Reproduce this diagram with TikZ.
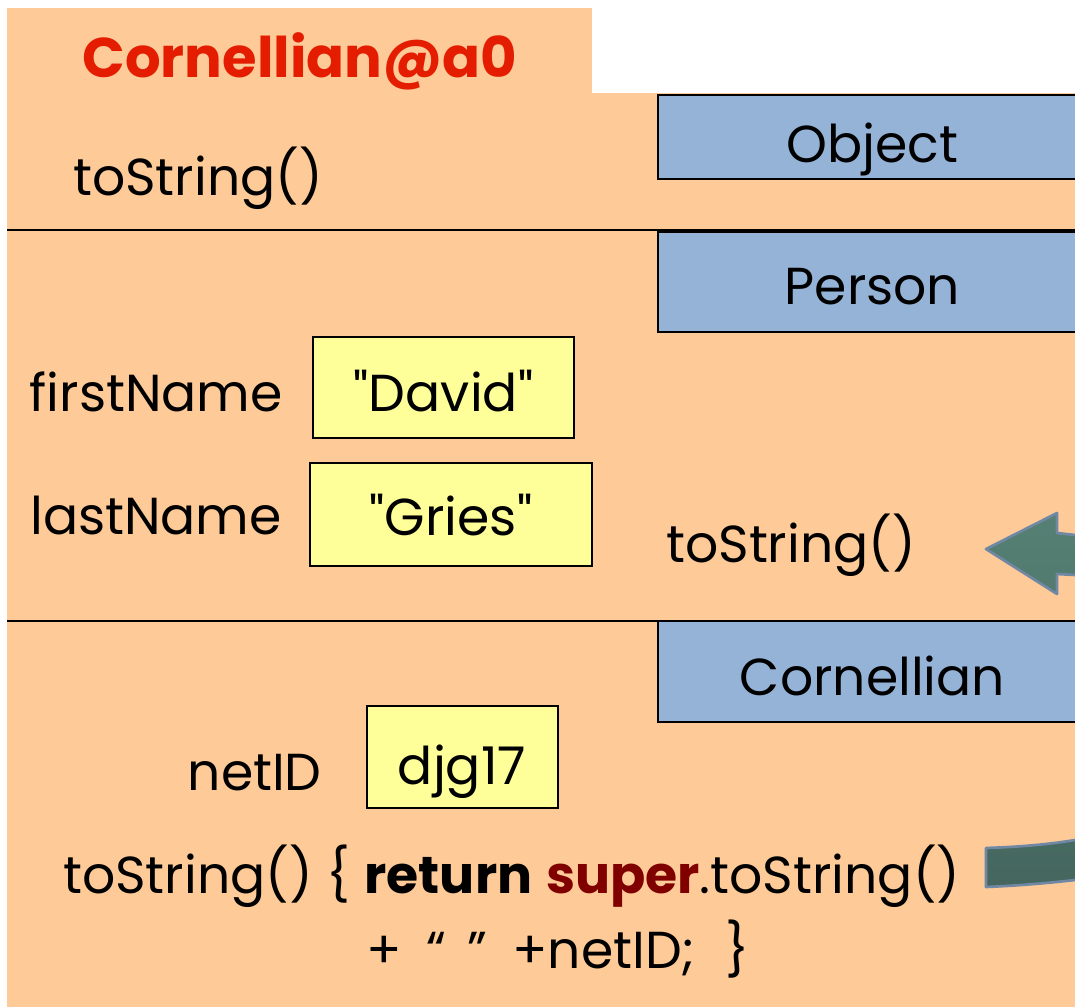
\documentclass[tikz,border=0pt]{standalone}
\usepackage{fontspec}
\setmainfont{Poppins}
\definecolor{peach}{RGB}{253,202,152}
\definecolor{clsblue}{RGB}{149,179,215}
\definecolor{fieldyel}{RGB}{255,255,153}
\definecolor{titlered}{RGB}{228,28,0}
\definecolor{superred}{RGB}{128,0,0}
\definecolor{arrtop}{RGB}{86,128,116}
\definecolor{arrbot}{RGB}{68,102,94}
\definecolor{arredge}{RGB}{112,136,164}
\begin{document}
\begin{tikzpicture}[x=0.75pt,y=-0.75pt,
  txt/.style={inner sep=0pt,font=\fontsize{39}{47}\selectfont},
  clsbox/.style={draw=black,line width=1.5pt,fill=clsblue,inner sep=0pt,minimum height=63.75pt},
  valbox/.style={draw=black,line width=1.5pt,fill=fieldyel,inner sep=0pt},
  sepline/.style={line width=1.6pt,black}]
\useasboundingbox (0,0) rectangle (1075,1007);
\begin{scope}
\clip (0,0) rectangle (1075,1007);
% object background
\fill[peach] (7,8) rectangle (592,94);
\fill[peach] (7,93) rectangle (1075,1007);
\draw[sepline] (7,230) -- (1075,230);
\draw[sepline] (7,621) -- (1075,621);
% class tags
\node[clsbox,minimum width=322.5pt,minimum height=63pt] (obj) at (872.5,137) {};
\node[clsbox,minimum width=322.5pt,minimum height=75pt] (per) at (872.5,282) {};
\node[clsbox,minimum width=322.5pt,minimum height=75.75pt] (cor) at (872.5,671.5) {};
% curved arrow (continues beyond the right edge)
\shade[top color=arrtop,bottom color=arrbot,draw=arredge,line width=2pt,line join=round]
  (986,549) -- (1057,513) -- (1057,533) -- (1075,535)
  .. controls (1200,548) and (1200,870) .. (1075,880)
  .. controls (1040,884) and (1010,886) .. (986,887) -- (986,848)
  .. controls (1015,847) and (1045,845) .. (1075,840)
  .. controls (1160,833) and (1160,583) .. (1075,575)
  -- (1057,574) -- (1057,594) -- cycle;
\end{scope}
\node[txt,anchor=base] (objt) at (872.5,162) {Object};
\node[txt,anchor=base] (pert) at (872.5,304) {Person};
\node[txt,anchor=base] (cort) at (872.5,695) {Cornellian};
% title
\node[inner sep=0pt,anchor=base,text=titlered,font=\fontsize{42}{50}\selectfont\bfseries] (title) at (300,77) {Cornellian@a0};
% Object part
\node[txt,anchor=base west] (ts1) at (73,195) {toString()};
% Person part
\node[valbox,minimum width=195.75pt,minimum height=75.75pt] (david) at (443.5,387.5) {};
\node[txt,anchor=base] (davidt) at (443.5,411) {\textquotedbl David\textquotedbl};
\node[valbox,minimum width=211.5pt,minimum height=77.25pt] (gries) at (451,514.5) {};
\node[txt,anchor=base] (griest) at (451,535) {\textquotedbl Gries\textquotedbl};
\node[txt,anchor=base east] (fn) at (283,411) {firstName};
\node[txt,anchor=base east] (ln) at (282,534) {lastName};
\node[txt,anchor=base west] (ts2) at (666,562) {toString()};
% Cornellian part
\node[valbox,minimum width=143.25pt,minimum height=76.5pt] (net) at (462,757) {};
\node[txt,anchor=base] (nett) at (462,784) {djg17};
\node[txt,anchor=base east] (netl) at (322,790) {netID};
\node[txt,anchor=base west] (ts3) at (63,893) {toString() \{ \textbf{return} \textbf{\color{superred}super}.toString()};
\node[txt,anchor=base west] (ts4) at (366,968) {+\hspace{8pt} “\hspace{6pt} ”\hspace{8pt} +netID;\hspace{12pt} \}};
\end{tikzpicture}
\end{document}
